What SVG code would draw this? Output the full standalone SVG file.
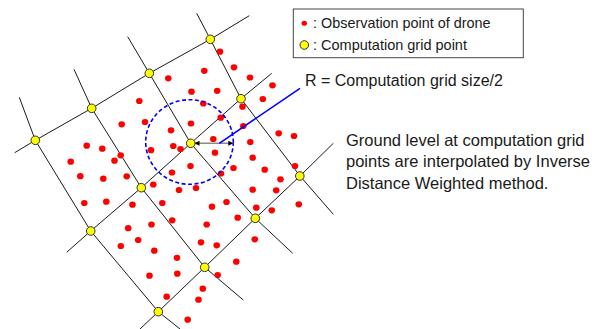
<svg xmlns="http://www.w3.org/2000/svg" width="602" height="329" viewBox="0 0 602 329">
<style>
.grid{fill:none;stroke:#1a1a1a;stroke-width:1}
.gp{fill:#ffff00;stroke:#333;stroke-width:1}
.obs{fill:#ff0000}
.t{font-family:"Liberation Sans",Arial,sans-serif;fill:#1a1a1a}
</style>
<defs>
<marker id="ah" viewBox="0 0 10 10" refX="10" refY="5" markerWidth="6" markerHeight="5" markerUnits="userSpaceOnUse" orient="auto-start-reverse">
<path d="M0,0 L10,5 L0,10 z" fill="#000"/>
</marker>
</defs>
<rect width="602" height="329" fill="#fff"/>
<g id="connectors">
<polyline class="grid" points="14.7,152.7 35.3,140.3 91.7,108.3 149.3,73.3 210.3,39.3 249.3,15.7"/>
<polyline class="grid" points="66.7,252.3 90.7,231 141.3,187.7 190.7,143.3 241,98.7 271.7,73.3"/>
<polyline class="grid" points="140,329 158.3,311.7 204.7,267.3 255.3,218.3 300,176 333.3,143.3"/>
<polyline class="grid" points="19.3,97.3 35.3,140.3 90.7,231 158.3,311.7 180,329"/>
<polyline class="grid" points="74,69.3 91.7,108.3 141.3,187.7 204.7,267.3 243.3,300"/>
<polyline class="grid" points="127.7,36.7 149.3,73.3 190.7,143.3 255.3,218.3 292.7,253.3"/>
<polyline class="grid" points="196.7,13.3 210.3,39.3 241,98.7 300,176 333.3,214.3"/>
</g>
<g id="observation-points" class="obs">
<ellipse cx="220" cy="51.7" rx="3.3" ry="3.1"/><ellipse cx="234" cy="67.3" rx="3.3" ry="3.1"/><ellipse cx="204.3" cy="70.8" rx="3.3" ry="3.1"/><ellipse cx="250" cy="77.5" rx="3.3" ry="3.1"/><ellipse cx="168.3" cy="78.3" rx="3.3" ry="3.1"/><ellipse cx="272.5" cy="85.3" rx="3.3" ry="3.1"/><ellipse cx="191.5" cy="91.7" rx="3.3" ry="3.1"/><ellipse cx="217.2" cy="90.8" rx="3.3" ry="3.1"/><ellipse cx="139.3" cy="101" rx="3.3" ry="3.1"/><ellipse cx="262.8" cy="99" rx="3.3" ry="3.1"/><ellipse cx="203.3" cy="103.5" rx="3.3" ry="3.1"/><ellipse cx="242.5" cy="106.7" rx="3.3" ry="3.1"/><ellipse cx="220.7" cy="117.7" rx="3.3" ry="3.1"/><ellipse cx="121.7" cy="124.3" rx="3.3" ry="3.1"/><ellipse cx="145" cy="122" rx="3.3" ry="3.1"/><ellipse cx="191" cy="123.5" rx="3.3" ry="3.1"/><ellipse cx="243.3" cy="126" rx="3.3" ry="3.1"/><ellipse cx="171" cy="130.3" rx="3.3" ry="3.1"/><ellipse cx="278.7" cy="133.3" rx="3.3" ry="3.1"/><ellipse cx="294" cy="136" rx="3.3" ry="3.1"/><ellipse cx="213.3" cy="139" rx="3.3" ry="3.1"/><ellipse cx="250.3" cy="142" rx="3.3" ry="3.1"/><ellipse cx="86.7" cy="145.7" rx="3.3" ry="3.1"/><ellipse cx="102.3" cy="148.7" rx="3.3" ry="3.1"/><ellipse cx="151" cy="150.2" rx="3.3" ry="3.1"/><ellipse cx="173.3" cy="146" rx="3.3" ry="3.1"/><ellipse cx="180.5" cy="149" rx="3.3" ry="3.1"/><ellipse cx="215" cy="152.7" rx="3.3" ry="3.1"/><ellipse cx="120.7" cy="155.3" rx="3.3" ry="3.1"/><ellipse cx="114.5" cy="160.7" rx="3.3" ry="3.1"/><ellipse cx="70.7" cy="161.7" rx="3.3" ry="3.1"/><ellipse cx="252.7" cy="157.7" rx="3.3" ry="3.1"/><ellipse cx="295" cy="166" rx="3.3" ry="3.1"/><ellipse cx="190.5" cy="166" rx="3.3" ry="3.1"/><ellipse cx="80.3" cy="176.2" rx="3.3" ry="3.1"/><ellipse cx="103.3" cy="178.7" rx="3.3" ry="3.1"/><ellipse cx="126.7" cy="176.3" rx="3.3" ry="3.1"/><ellipse cx="172" cy="172.5" rx="3.3" ry="3.1"/><ellipse cx="233.5" cy="168" rx="3.3" ry="3.1"/><ellipse cx="264.7" cy="169.7" rx="3.3" ry="3.1"/><ellipse cx="153.3" cy="184.5" rx="3.3" ry="3.1"/><ellipse cx="179" cy="190" rx="3.3" ry="3.1"/><ellipse cx="196" cy="188" rx="3.3" ry="3.1"/><ellipse cx="221" cy="173.5" rx="3.3" ry="3.1"/><ellipse cx="280.5" cy="179.3" rx="3.3" ry="3.1"/><ellipse cx="252.7" cy="189.7" rx="3.3" ry="3.1"/><ellipse cx="276.2" cy="190.3" rx="3.3" ry="3.1"/><ellipse cx="84.3" cy="203" rx="3.3" ry="3.1"/><ellipse cx="106.3" cy="201.7" rx="3.3" ry="3.1"/><ellipse cx="132.5" cy="204.7" rx="3.3" ry="3.1"/><ellipse cx="162.3" cy="203" rx="3.3" ry="3.1"/><ellipse cx="212" cy="206.7" rx="3.3" ry="3.1"/><ellipse cx="226.5" cy="202" rx="3.3" ry="3.1"/><ellipse cx="256.3" cy="207.7" rx="3.3" ry="3.1"/><ellipse cx="271.8" cy="210.3" rx="3.3" ry="3.1"/><ellipse cx="298.8" cy="204.3" rx="3.3" ry="3.1"/><ellipse cx="237.7" cy="217.7" rx="3.3" ry="3.1"/><ellipse cx="172.2" cy="220.3" rx="3.3" ry="3.1"/><ellipse cx="206.7" cy="224.5" rx="3.3" ry="3.1"/><ellipse cx="128.2" cy="228.2" rx="3.3" ry="3.1"/><ellipse cx="151.5" cy="224.5" rx="3.3" ry="3.1"/><ellipse cx="138.2" cy="240" rx="3.3" ry="3.1"/><ellipse cx="120.8" cy="246" rx="3.3" ry="3.1"/><ellipse cx="201" cy="242.3" rx="3.3" ry="3.1"/><ellipse cx="216.7" cy="245.3" rx="3.3" ry="3.1"/><ellipse cx="254.8" cy="239.3" rx="3.3" ry="3.1"/><ellipse cx="154.3" cy="250.7" rx="3.3" ry="3.1"/><ellipse cx="177" cy="257.8" rx="3.3" ry="3.1"/><ellipse cx="236.3" cy="261.7" rx="3.3" ry="3.1"/><ellipse cx="149.5" cy="275.7" rx="3.3" ry="3.1"/><ellipse cx="177.3" cy="273.7" rx="3.3" ry="3.1"/><ellipse cx="217.7" cy="275" rx="3.3" ry="3.1"/><ellipse cx="202.8" cy="288.7" rx="3.3" ry="3.1"/><ellipse cx="166.7" cy="296.7" rx="3.3" ry="3.1"/><ellipse cx="198.5" cy="299.7" rx="3.3" ry="3.1"/><ellipse cx="187.7" cy="319.7" rx="3.3" ry="3.1"/>
</g>
<g id="radius-circle">
<ellipse cx="189.5" cy="142" rx="43.8" ry="42.3" fill="none" stroke="#0000ff" stroke-width="1.6" stroke-dasharray="4,2.5"/>
</g>
<g id="radius-arrow">
<line x1="194.5" y1="143.3" x2="233.3" y2="143.3" stroke="#8c8c8c" stroke-width="1.6" marker-start="url(#ah)" marker-end="url(#ah)"/>
</g>
<g id="grid-points" class="gp">
<circle id="gpA" cx="35.3" cy="140.3" r="4.3"/>
<circle id="gpB" cx="91.7" cy="108.3" r="4.3"/>
<circle id="gpC" cx="149.3" cy="73.3" r="4.3"/>
<circle id="gpD" cx="210.3" cy="39.3" r="4.3"/>
<circle id="gpE" cx="241" cy="98.7" r="4.3"/>
<circle id="gpF" cx="190.7" cy="143.3" r="4.3"/>
<circle id="gpG" cx="141.3" cy="187.7" r="4.3"/>
<circle id="gpH" cx="90.7" cy="231" r="4.3"/>
<circle id="gpI" cx="255.3" cy="218.3" r="4.3"/>
<circle id="gpJ" cx="204.7" cy="267.3" r="4.3"/>
<circle id="gpK" cx="158.3" cy="311.7" r="4.3"/>
<circle id="gpL" cx="299.8" cy="176" r="4.3"/>
</g>
<g id="radius-label">
<line x1="219.3" y1="143.3" x2="300" y2="88.3" stroke="#0000ff" stroke-width="1.6"/>
<text class="t" x="305" y="86" font-size="16">R = Computation grid size/2</text>
</g>
<g id="legend">
<rect x="293.3" y="9" width="230" height="48.7" fill="#fff" stroke="#444" stroke-width="1"/>
<ellipse class="obs" cx="304.3" cy="23.3" rx="2.7" ry="2.5"/>
<text class="t" x="313" y="27.5" font-size="14.4">: Observation point of drone</text>
<circle class="gp" cx="304.3" cy="45" r="4.3"/>
<text class="t" x="313" y="49.5" font-size="14.5">: Computation grid point</text>
</g>
<g id="description">
<text class="t" font-size="16.5"><tspan x="346" y="145.7">Ground level at computation grid</tspan><tspan x="346" y="167.3">points are interpolated by Inverse</tspan><tspan x="346" y="189">Distance Weighted method.</tspan></text>
</g>
</svg>
